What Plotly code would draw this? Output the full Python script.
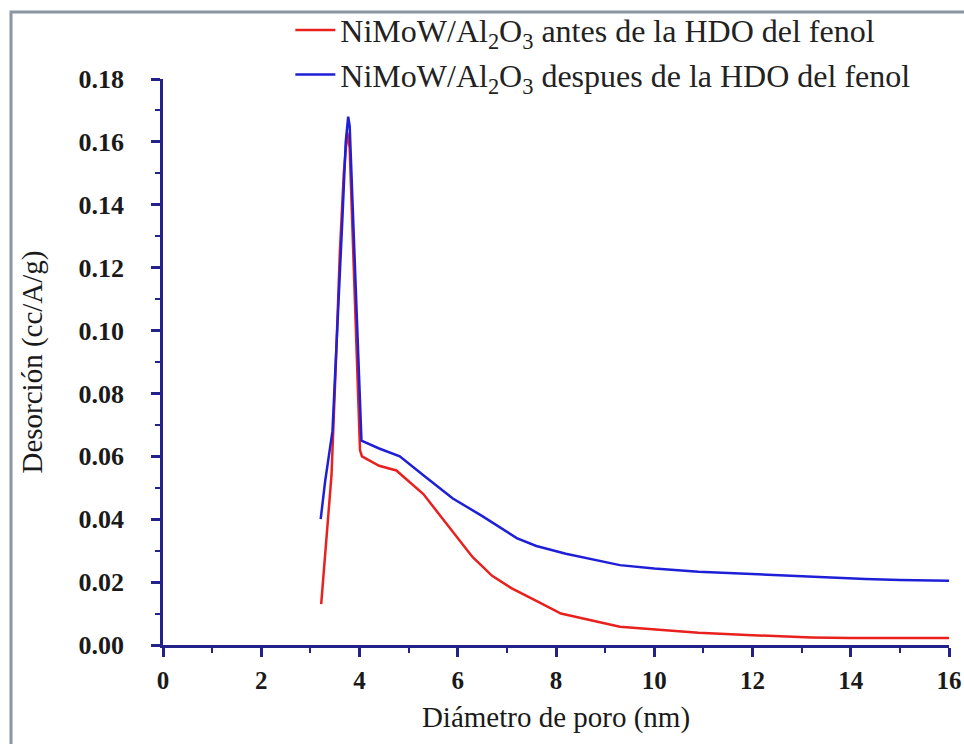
import plotly.graph_objects as go

# Pore diameter (nm) and desorption (cc/A/g)
x_antes = [3.22, 3.33, 3.43, 3.52, 3.60, 3.68, 3.75, 3.80, 3.86, 3.93, 4.01, 4.05, 4.4, 4.75, 5.0, 5.3, 5.7, 6.3, 6.7, 7.1, 7.6, 8.1, 9.3, 10.0, 10.9, 12.0, 13.2, 14.0, 15.0, 16.0]
y_antes = [0.013, 0.035, 0.054, 0.090, 0.125, 0.150, 0.163, 0.158, 0.130, 0.095, 0.062, 0.060, 0.057, 0.0555, 0.052, 0.048, 0.040, 0.028, 0.022, 0.018, 0.014, 0.010, 0.0058, 0.0050, 0.0039, 0.0031, 0.0024, 0.0022, 0.0022, 0.0022]

x_despues = [3.21, 3.30, 3.45, 3.55, 3.65, 3.72, 3.77, 3.80, 3.86, 3.93, 4.00, 4.04, 4.4, 4.82, 5.3, 5.9, 6.5, 7.2, 7.6, 8.2, 9.3, 10.0, 10.9, 12.0, 12.8, 14.3, 15.0, 16.0]
y_despues = [0.040, 0.052, 0.068, 0.100, 0.135, 0.160, 0.168, 0.165, 0.140, 0.110, 0.080, 0.065, 0.0625, 0.060, 0.054, 0.0466, 0.041, 0.034, 0.0315, 0.029, 0.0254, 0.0243, 0.0233, 0.0225, 0.0219, 0.021, 0.0207, 0.0204]

x_ticks = [0, 2, 4, 6, 8, 10, 12, 14, 16]
y_ticks = [0.00, 0.02, 0.04, 0.06, 0.08, 0.10, 0.12, 0.14, 0.16, 0.18]

SERIF = "Liberation Serif"
name_antes = "NiMoW/Al<sub>2</sub>O<sub>3</sub> antes de la HDO del fenol"
name_despues = "NiMoW/Al<sub>2</sub>O<sub>3</sub> despues de la HDO del fenol"

AXIS = "#22228a"

fig = go.Figure()
fig.add_trace(go.Scatter(x=x_antes, y=y_antes, mode="lines", name=name_antes,
                         legendgroup="a", line=dict(color="#e8201e", width=2.5)))
fig.add_trace(go.Scatter(x=x_despues, y=y_despues, mode="lines", name=name_despues,
                         legendgroup="b", line=dict(color="#1f1fd8", width=2.5)))

fig.update_layout(
    width=964, height=744,
    margin=dict(l=163, r=15, t=79, b=99, autoexpand=False),
    paper_bgcolor="white", plot_bgcolor="white",
    font=dict(family=SERIF, color="#1a1a1a"),
    showlegend=True,
    legend=dict(x=0.162, y=1.135, xanchor="left", yanchor="top",
                font=dict(family=SERIF, size=32, color="#222"),
                bgcolor="rgba(0,0,0,0)", tracegroupgap=0,
                itemwidth=40),
    xaxis=dict(range=[0, 16], tickvals=x_ticks, ticktext=[str(v) for v in x_ticks],
               automargin=False,
               showgrid=False, zeroline=False, showline=True, linecolor=AXIS, linewidth=2.5,
               ticks="outside", ticklen=9, tickwidth=2.5, tickcolor=AXIS,
               minor=dict(ticks="outside", ticklen=5, tickwidth=2, tickcolor=AXIS, dtick=1),
               ticklabelstandoff=2,
               tickfont=dict(family=SERIF, size=25, color="#1a1a1a", weight="bold"),
               title=dict(text="Diámetro de poro (nm)", font=dict(family=SERIF, size=29, color="#1a1a1a"),
                          standoff=14)),
    yaxis=dict(range=[0, 0.18], tickvals=y_ticks, ticktext=[f"{v:.2f}" for v in y_ticks],
               automargin=False,
               showgrid=False, zeroline=False, showline=True, linecolor=AXIS, linewidth=2.5,
               ticks="outside", ticklen=9, tickwidth=2.5, tickcolor=AXIS,
               minor=dict(ticks="outside", ticklen=5, tickwidth=2, tickcolor=AXIS, dtick=0.01),
               ticklabelstandoff=22,
               tickfont=dict(family=SERIF, size=26, color="#1a1a1a", weight="bold"),
               title=dict(text="Desorción (cc/A/g)", font=dict(family=SERIF, size=29, color="#1a1a1a"),
                          standoff=28)),
)

# Outer frame (grey border seen in the reference image)
fig.add_shape(type="rect", xref="paper", yref="paper",
              x0=(11 - 163) / 786, x1=(980 - 163) / 786,
              y0=(645 - 780) / 566, y1=(645 - 12) / 566,
              line=dict(color="#8c95a2", width=3), fillcolor="rgba(0,0,0,0)", layer="below")

fig.write_html("out.html")
